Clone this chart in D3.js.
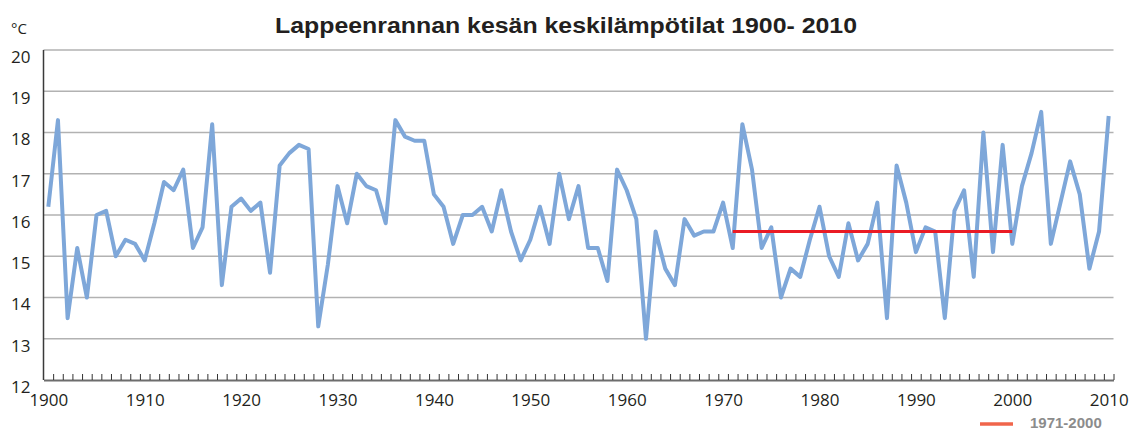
<!DOCTYPE html>
<html>
<head>
<meta charset="utf-8">
<script src="https://cdn.jsdelivr.net/npm/d3@7"></script>
<style>
html,body{margin:0;padding:0;background:#fff;}
svg{display:block;}
</style>
</head>
<body>
<svg id="chart" width="1131" height="430"></svg>
<script>
const years = d3.range(1900, 2011);
const temps = [
 16.2,18.3,13.5,15.2,14.0,16.0,16.1,15.0,15.4,15.3,
 14.9,15.8,16.8,16.6,17.1,15.2,15.7,18.2,14.3,16.2,
 16.4,16.1,16.3,14.6,17.2,17.5,17.7,17.6,13.3,14.8,
 16.7,15.8,17.0,16.7,16.6,15.8,18.3,17.9,17.8,17.8,
 16.5,16.2,15.3,16.0,16.0,16.2,15.6,16.6,15.6,14.9,
 15.4,16.2,15.3,17.0,15.9,16.7,15.2,15.2,14.4,17.1,
 16.6,15.9,13.0,15.6,14.7,14.3,15.9,15.5,15.6,15.6,
 16.3,15.2,18.2,17.1,15.2,15.7,14.0,14.7,14.5,15.4,
 16.2,15.0,14.5,15.8,14.9,15.3,16.3,13.5,17.2,16.3,
 15.1,15.7,15.6,13.5,16.1,16.6,14.5,18.0,15.1,17.7,
 15.3,16.7,17.5,18.5,15.3,16.3,17.3,16.5,14.7,15.6,
 18.4
];
const normalPeriod = [1971, 2000];
const normalValue = [15.6, 15.6];
const yTicks = [12,13,14,15,16,17,18,19,20];
const xLabels = [1900,1910,1920,1930,1940,1950,1960,1970,1980,1990,2000,2010];
const titleText = "Lappeenrannan kesän keskilämpötilat 1900- 2010";
const unitText = "°C";
const legendText = "1971-2000";

const svg = d3.select("#chart");
const x = d3.scaleLinear().domain([1899.5, 2010.5]).range([43.5, 1113.5]);
const y = d3.scaleLinear().domain([12, 20]).range([380, 50]);

// grid
svg.append("g").selectAll("line").data(yTicks.filter(d => d > 12)).join("line")
  .attr("x1", x(1899.5)).attr("x2", x(2010.5))
  .attr("y1", d => y(d)).attr("y2", d => y(d))
  .attr("stroke", "#b2b2b2").attr("stroke-width", 1.3);

// y labels
const yAxis = svg.append("g").attr("transform", `translate(${x(1899.5)},0)`)
  .call(d3.axisLeft(y).tickValues(yTicks).tickSize(0).tickPadding(13).tickFormat(d3.format("d")));
yAxis.select(".domain").remove();
yAxis.selectAll("text").attr("font-family", "'Open Sans', sans-serif").attr("font-size", 17)
  .attr("fill", "#231f20").attr("dy", "0.72em");

// y axis line
svg.append("line").attr("x1", x(1899.5)).attr("x2", x(1899.5)).attr("y1", y(20)).attr("y2", y(12))
  .attr("stroke", "#3a3a3a").attr("stroke-width", 1.5);

// x minor ticks at category boundaries
const xt = svg.append("g").attr("transform", `translate(0,${y(12)})`)
  .call(d3.axisBottom(x).tickValues(d3.range(1900.5, 2010.6, 1)).tickSizeInner(-6).tickSizeOuter(0).tickFormat(""));
xt.select(".domain").attr("stroke", "#6d6d6d").attr("stroke-width", 1.8);
xt.selectAll(".tick line").attr("stroke", "#333").attr("stroke-width", 1);

// x labels
const xl = svg.append("g").attr("transform", `translate(0,${y(12)})`)
  .call(d3.axisBottom(x).tickValues(xLabels).tickSize(0).tickPadding(14).tickFormat(d3.format("d")));
xl.select(".domain").remove();
xl.selectAll("text").attr("font-family", "'Open Sans', sans-serif").attr("font-size", 17).attr("fill", "#231f20");

// data line
const line = d3.line().x((d, i) => x(years[i])).y(d => y(d));
svg.append("path").datum(temps).attr("d", line)
  .attr("fill", "none").attr("stroke", "#7ea7d9").attr("stroke-width", 4).attr("stroke-linejoin", "round");

// normal period line
svg.append("line").attr("x1", x(normalPeriod[0])).attr("x2", x(normalPeriod[1]))
  .attr("y1", y(normalValue[0])).attr("y2", y(normalValue[1]))
  .attr("stroke", "#ea1b24").attr("stroke-width", 3);

// title
svg.append("text").attr("x", 566).attr("y", 33).attr("text-anchor", "middle")
  .attr("font-family", "'Liberation Sans', Arial, sans-serif").attr("font-weight", "bold")
  .attr("font-size", 22).attr("textLength", 582).attr("lengthAdjust", "spacingAndGlyphs")
  .attr("fill", "#231f20").text(titleText);

// unit
svg.append("text").attr("x", 11).attr("y", 34)
  .attr("font-family", "'Open Sans', sans-serif").attr("font-size", 15).attr("fill", "#231f20").text(unitText);

// legend
svg.append("line").attr("x1", 980).attr("x2", 1013).attr("y1", 424).attr("y2", 424)
  .attr("stroke", "#f0654b").attr("stroke-width", 3.5);
svg.append("text").attr("x", 1030).attr("y", 428)
  .attr("font-family", "'Liberation Sans', Arial, sans-serif").attr("font-weight", "bold")
  .attr("font-size", 15).attr("fill", "#8c8c8c").text(legendText);
</script>
</body>
</html>
